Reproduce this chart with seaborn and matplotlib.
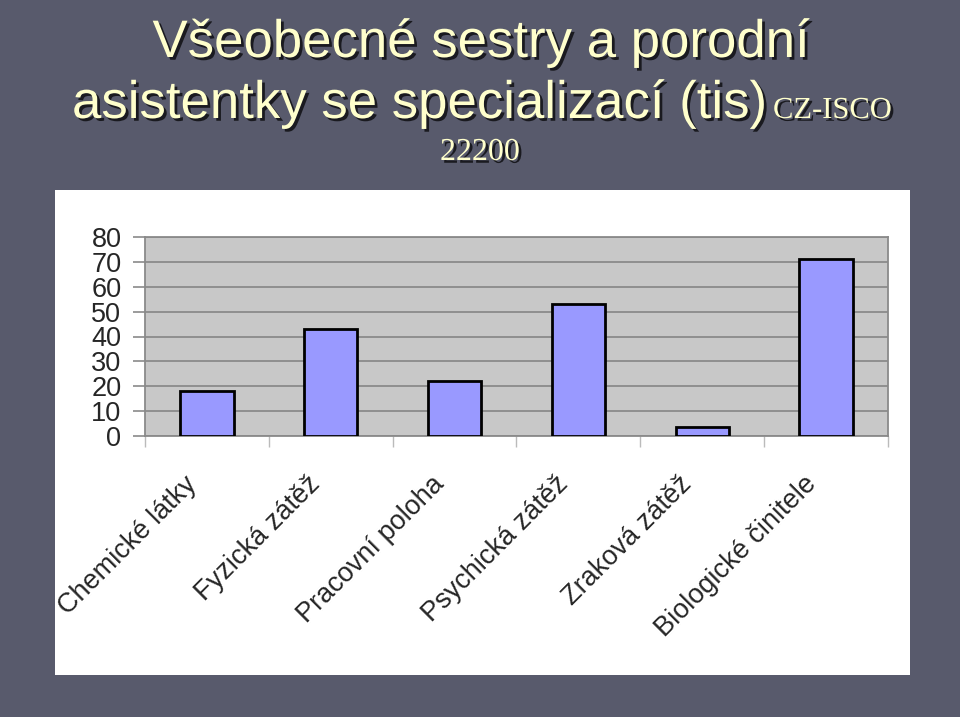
import matplotlib
matplotlib.use("Agg")
import matplotlib.pyplot as plt
import matplotlib.patheffects as pe
import matplotlib.transforms as mtransforms
from matplotlib.patches import Rectangle
import seaborn as sns
import pandas as pd

# data
categories = ["Chemické látky", "Fyzická zátěž", "Pracovní poloha",
              "Psychická zátěž", "Zraková zátěž", "Biologické činitele"]
values = [18, 43, 22, 53, 3.5, 71]
yticks = [0, 10, 20, 30, 40, 50, 60, 70, 80]

df = pd.DataFrame({"kat": categories, "val": values})

sns.set_style("white")
plt.rcParams["font.family"] = ["Liberation Sans", "DejaVu Sans"]

bg = "#585a6c"
fig = plt.figure(figsize=(9.6, 7.17), dpi=100, facecolor=bg)

# white panel behind the chart
fig.patches.append(Rectangle((55 / 960, 1 - 675 / 717), 855 / 960, 485 / 717,
                             transform=fig.transFigure, facecolor="white",
                             edgecolor="none", zorder=-5))

# title
shadow = [pe.withSimplePatchShadow(offset=(2, -2), shadow_rgbFace="black", alpha=0.7)]
cream = "#ffffcc"
fig.text(481 / 960, 1 - 57 / 717, "Všeobecné sestry a porodní", ha="center", va="baseline",
         fontsize=38, color=cream, path_effects=shadow)
fig.text(72 / 960, 1 - 118 / 717, "asistentky se specializací (tis)", ha="left",
         va="baseline", fontsize=38, color=cream, path_effects=shadow)
fig.text(773 / 960, 1 - 118 / 717, "CZ-ISCO", ha="left", va="baseline",
         fontsize=22, color=cream, family="Liberation Serif", path_effects=shadow)
fig.text(0.5, 1 - 160 / 717, "22200", ha="center", va="baseline",
         fontsize=23, color=cream, family="Liberation Serif", path_effects=shadow)

ax = fig.add_axes([145 / 960, 1 - 436 / 717, 743 / 960, 199 / 717])
ax.set_facecolor("#c8c8c8")

sns.barplot(data=df, x="kat", y="val", color="#9999ff", edgecolor="black",
            linewidth=2, width=0.43, saturation=1, ax=ax, zorder=3)

ax.set_ylim(0, 80)
ax.set_xlim(-0.5, 5.5)
ax.set_yticks(yticks)
ax.set_yticklabels([str(t) for t in yticks], fontsize=19.5)
ax.yaxis.grid(True, color="#8a8a8a", linewidth=1.3, zorder=1)
ax.set_axisbelow(True)
ax.tick_params(axis="y", length=9, width=1.2, color="#8a8a8a", pad=8, direction="out", left=True)

ax.set_xticks(range(len(categories)))
ax.set_xticklabels(categories, rotation=45, ha="right", va="center",
                   rotation_mode="anchor", fontsize=19.5)
ax.tick_params(axis="x", length=0, pad=32)
shift = mtransforms.ScaledTranslation(-14 / 100, 0, fig.dpi_scale_trans)
for lab in ax.get_xticklabels():
    lab.set_transform(lab.get_transform() + shift)
ax.set_xticks([i - 0.5 for i in range(len(categories) + 1)], minor=True)
ax.tick_params(axis="x", which="minor", length=8, width=1, color="#bbbbbb", direction="out", bottom=True)

for s in ax.spines.values():
    s.set_color("#8a8a8a")
    s.set_linewidth(1.3)
ax.set_xlabel("")
ax.set_ylabel("")

fig.savefig("out.png", dpi=100, facecolor=bg)
